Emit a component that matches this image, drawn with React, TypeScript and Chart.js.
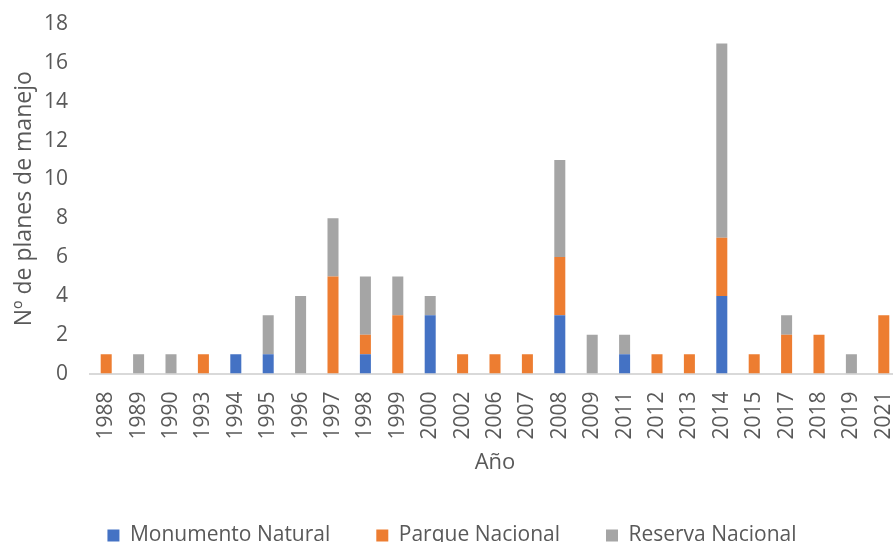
import React, { useEffect, useRef } from "react";
import { Chart, registerables } from "chart.js";

Chart.register(...registerables);

const years = ["1988","1989","1990","1993","1994","1995","1996","1997","1998","1999","2000","2002","2006","2007","2008","2009","2011","2012","2013","2014","2015","2017","2018","2019","2021"];
const monumentoNatural = [0,0,0,0,1,1,0,0,1,0,3,0,0,0,3,0,1,0,0,4,0,0,0,0,0];
const parqueNacional =   [1,0,0,1,0,0,0,5,1,3,0,1,1,1,3,0,0,1,1,3,1,2,2,0,3];
const reservaNacional =  [0,1,1,0,0,2,4,3,3,2,1,0,0,0,5,2,1,0,0,10,0,1,0,1,0];
const yTicks = [0,2,4,6,8,10,12,14,16,18];

const FONT = "'Open Sans', 'Noto Sans', sans-serif";
const TXT = "#595959";

export default function App() {
  const ref = useRef<HTMLCanvasElement>(null);
  useEffect(() => {
    if (!ref.current) return;
    const chart = new Chart(ref.current, {
      type: "bar",
      data: {
        labels: years,
        datasets: [
          { label: "Monumento Natural", data: monumentoNatural, backgroundColor: "#4472C4" },
          { label: "Parque Nacional", data: parqueNacional, backgroundColor: "#ED7D31" },
          { label: "Reserva Nacional", data: reservaNacional, backgroundColor: "#A5A5A5" },
        ],
      },
      options: {
        animation: false,
        responsive: false,
        maintainAspectRatio: false,
        datasets: { bar: { barPercentage: 0.68, categoryPercentage: 0.5 } },
        layout: { padding: { top: 0, left: 4, right: 0, bottom: 0 } },
        plugins: {
          tooltip: { enabled: false },
          legend: {
            position: "bottom",
            labels: {
              font: { family: FONT, size: 21 },
              color: TXT,
              boxWidth: 12,
              boxHeight: 12,
              padding: 46,
            },
          },
        },
        scales: {
          x: {
            stacked: true,
            afterFit: (axis: any) => {
              axis.paddingRight = 0;
              axis.paddingLeft = 0;
            },
            grid: { display: false, drawTicks: false },
            border: { color: "#D9D9D9", width: 2 },
            ticks: {
              font: { family: FONT, size: 21 },
              color: TXT,
              maxRotation: 90,
              minRotation: 90,
              autoSkip: false,
              padding: 18,
            },
            title: {
              display: true,
              text: "Año",
              font: { family: FONT, size: 22 },
              color: TXT,
              padding: { top: -8, bottom: 3 },
            },
          },
          y: {
            stacked: true,
            min: 0,
            max: 18,
            afterBuildTicks: (axis: any) => {
              axis.ticks = yTicks.map((v) => ({ value: v }));
            },
            afterFit: (axis: any) => {
              axis.width = 86;
              axis.paddingTop = 24;
              axis.paddingBottom = 0;
            },
            grid: { display: false, drawTicks: false },
            border: { display: false },
            ticks: {
              font: { family: FONT, size: 21 },
              color: TXT,
              padding: 22,
            },
            title: {
              display: true,
              text: "Nº de planes de manejo",
              font: { family: FONT, size: 23 },
              color: TXT,
              padding: { top: 7, bottom: 0 },
            },
          },
        },
      },
    });
    return () => chart.destroy();
  }, []);
  return (
    <div style={{ position: "absolute", left: 0, top: 0, width: 893, height: 542, overflow: "hidden", background: "#fff" }}>
      <canvas ref={ref} width={900} height={556} style={{ display: "block" }} />
    </div>
  );
}
